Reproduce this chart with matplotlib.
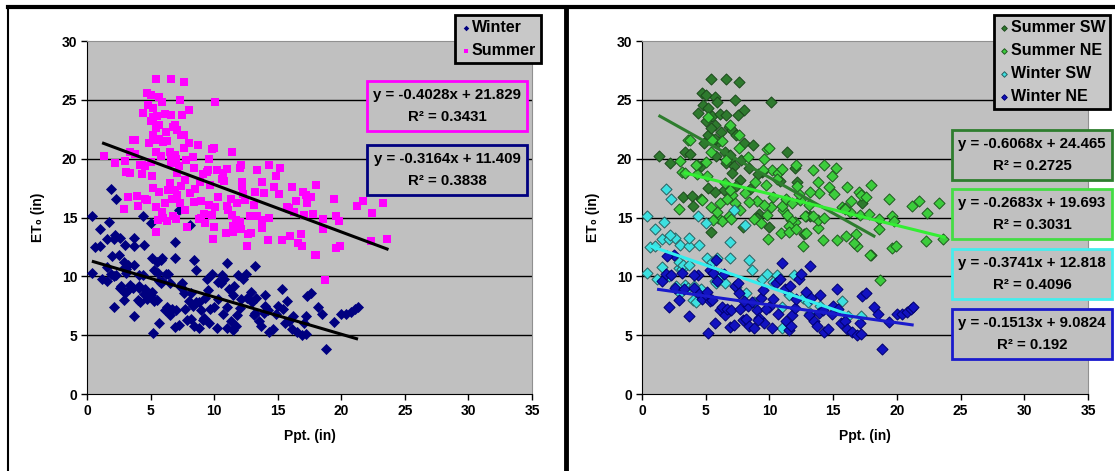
import matplotlib
matplotlib.use('Agg')
import matplotlib.pyplot as plt
from matplotlib.lines import Line2D
import numpy as np

plt.rcParams['font.family'] = ['Liberation Sans', 'DejaVu Sans']
plt.rcParams['font.weight'] = 'bold'

# points, (ppt, ET0) in inches
summer_sw = [(5.4, 26.8), (6.6, 26.8), (7.6, 26.5), (10.1, 24.8), (7.3, 25.0), (4.7, 25.6), (5.0, 25.4),
             (5.7, 25.2), (5.9, 24.8), (4.8, 24.6), (5.2, 24.3), (8.0, 24.1), (4.4, 23.9), (5.5, 23.6),
             (6.1, 23.8), (6.6, 23.7), (7.5, 23.7), (5.0, 23.2), (5.7, 22.9), (6.2, 22.3), (6.8, 22.7),
             (7.1, 22.4), (5.2, 22.0), (6.0, 21.4), (5.7, 21.7), (7.4, 22.0), (8.0, 21.3), (8.7, 21.2),
             (6.5, 20.6), (3.4, 20.6), (3.8, 20.4), (1.3, 20.2), (2.2, 19.6), (4.6, 19.4), (5.8, 20.2),
             (7.0, 20.0), (7.8, 19.9), (6.6, 19.6), (7.2, 19.4), (8.4, 19.2), (9.4, 18.9), (11.4, 20.6),
             (12.0, 19.2), (12.2, 18.0), (10.8, 18.1), (9.1, 18.7), (7.7, 18.2), (7.4, 17.7), (6.4, 17.3),
             (5.7, 17.2), (4.6, 16.6), (3.2, 16.7), (3.9, 16.8), (4.0, 16.0), (5.2, 17.5), (9.2, 15.3),
             (10.0, 14.2), (5.4, 13.8), (7.9, 14.2), (12.7, 13.6), (13.2, 15.1), (12.9, 15.1), (17.3, 16.2),
             (18.0, 11.8), (8.5, 17.4), (9.0, 15.0), (7.1, 18.8), (6.9, 20.3), (4.9, 21.3), (5.4, 22.6)]

summer_ne = [(5.2, 23.5), (3.6, 21.6), (3.8, 21.6), (5.5, 21.6), (6.3, 21.5), (6.9, 22.9), (4.3, 19.5),
             (3.1, 18.9), (3.4, 18.8), (5.4, 20.6), (5.0, 19.7), (6.6, 19.9), (7.6, 20.9), (7.6, 22.0),
             (8.3, 20.1), (9.6, 20.0), (9.8, 20.8), (10.0, 20.9), (10.2, 19.0), (10.7, 18.8), (11.0, 19.1),
             (12.1, 19.5), (13.4, 19.0), (14.3, 19.5), (15.2, 19.2), (14.9, 18.5), (13.8, 18.0), (13.9, 17.1),
             (14.7, 17.6), (15.1, 17.0), (16.1, 17.6), (17.0, 17.2), (17.2, 16.9), (18.0, 17.8), (17.6, 16.7),
             (16.4, 16.4), (15.7, 15.9), (15.9, 15.8), (16.3, 15.5), (17.1, 15.2), (17.8, 15.3), (18.6, 14.9),
             (19.6, 15.1), (19.8, 14.7), (19.4, 16.6), (21.2, 16.0), (21.7, 16.4), (23.3, 16.2), (22.4, 15.4),
             (22.3, 13.0), (23.6, 13.2), (19.6, 12.4), (19.9, 12.6), (18.6, 14.0), (17.9, 11.8), (18.7, 9.7),
             (16.9, 12.6), (16.6, 12.8), (16.8, 13.6), (16.0, 13.4), (15.3, 13.1), (14.2, 13.1), (13.8, 14.1),
             (13.8, 14.8), (12.6, 12.6), (12.9, 13.7), (12.8, 15.1), (12.0, 14.6), (11.7, 14.8), (11.5, 14.3),
             (11.1, 15.6), (10.9, 13.7), (11.5, 13.8), (11.4, 15.2), (11.0, 16.0), (11.3, 16.6), (11.8, 16.2),
             (12.4, 16.5), (13.1, 16.1), (13.2, 17.2), (12.3, 17.0), (10.3, 16.7), (10.1, 15.9), (9.8, 15.2),
             (9.6, 16.1), (9.0, 16.4), (9.3, 14.5), (8.8, 14.9), (8.4, 16.3), (7.7, 15.6), (7.3, 16.2),
             (7.1, 16.9), (6.9, 17.3), (6.5, 17.9), (6.1, 16.2), (6.0, 15.0), (6.3, 14.7), (5.9, 15.5),
             (5.6, 14.8), (6.8, 15.1), (5.4, 15.9), (4.3, 18.7), (4.2, 19.5), (3.0, 19.8), (2.9, 15.7),
             (4.7, 16.5), (5.1, 18.5), (8.1, 17.1), (8.9, 18.0), (9.7, 17.8), (9.5, 19.0), (10.6, 18.3),
             (12.1, 14.0), (12.2, 17.7), (13.4, 15.1), (14.3, 15.0), (15.9, 15.7), (9.9, 13.2), (7.0, 14.9),
             (6.7, 16.6)]

winter_sw = [(0.4, 15.1), (1.0, 14.0), (1.7, 14.6), (1.6, 13.2), (2.1, 13.2), (2.6, 13.3), (2.2, 13.5),
             (3.0, 12.7), (3.7, 12.6), (3.7, 13.3), (4.5, 12.7), (0.6, 12.5), (1.0, 12.6), (0.4, 10.3),
             (1.6, 10.8), (2.1, 10.0), (1.2, 9.8), (2.9, 10.7), (2.9, 11.2), (3.1, 10.6), (3.2, 11.0),
             (3.7, 11.0), (3.4, 9.3), (3.6, 9.0), (4.0, 8.0), (4.2, 7.8), (4.1, 9.2), (4.6, 8.9),
             (5.1, 11.6), (5.5, 11.2), (5.9, 11.6), (6.2, 10.2), (5.7, 9.6), (5.8, 9.4), (6.9, 11.6),
             (6.9, 12.9), (7.2, 15.6), (1.9, 17.4), (2.3, 16.6), (4.4, 15.1), (5.0, 14.5), (8.1, 14.4),
             (8.4, 11.4), (8.6, 10.5), (8.2, 8.6), (8.8, 7.8), (9.4, 9.8), (9.8, 10.2), (10.3, 9.5),
             (10.6, 10.1), (11.9, 10.1), (11.0, 7.4), (11.5, 8.4), (12.6, 8.2), (13.0, 7.8), (14.0, 7.5),
             (15.7, 7.9), (16.2, 6.6), (17.2, 6.6), (13.2, 6.9), (11.0, 5.6), (7.4, 9.1), (6.5, 9.4),
             (2.7, 9.2), (3.0, 8.6)]

winter_ne = [(2.1, 7.4), (1.6, 9.6), (1.9, 10.2), (2.3, 10.1), (2.6, 9.0), (2.9, 8.0), (3.3, 8.9),
             (3.1, 10.3), (3.7, 6.6), (4.1, 9.0), (4.4, 10.1), (4.5, 8.5), (4.7, 8.1), (5.0, 8.4),
             (5.3, 7.9), (5.5, 8.0), (5.3, 10.5), (5.6, 10.3), (5.8, 11.4), (5.2, 5.2), (5.7, 6.0),
             (6.1, 7.1), (6.3, 7.4), (6.5, 6.7), (6.7, 7.2), (6.9, 5.7), (7.0, 7.1), (7.3, 9.2),
             (7.6, 8.6), (7.7, 7.2), (7.9, 6.3), (8.2, 6.4), (8.4, 5.8), (8.3, 7.5), (8.6, 7.8),
             (8.8, 5.6), (9.0, 7.1), (9.2, 6.5), (9.3, 8.2), (9.5, 8.8), (9.6, 6.0), (10.0, 7.4),
             (10.2, 5.6), (10.3, 8.1), (10.7, 6.8), (11.0, 11.1), (11.2, 8.9), (11.3, 6.2), (11.5, 5.4),
             (11.7, 5.8), (11.8, 6.7), (12.0, 7.3), (12.3, 9.8), (12.5, 10.2), (12.9, 8.7), (13.1, 6.7),
             (13.2, 10.9), (13.3, 8.2), (13.5, 6.2), (13.7, 5.8), (13.9, 6.9), (14.0, 8.4), (14.2, 7.1),
             (14.3, 5.3), (14.6, 5.5), (15.0, 7.5), (15.3, 8.9), (15.4, 7.2), (15.6, 6.0), (15.9, 6.2),
             (16.1, 5.5), (16.5, 5.3), (16.9, 5.0), (17.3, 8.3), (17.6, 8.6), (17.1, 6.0), (17.2, 5.1),
             (18.2, 7.4), (18.5, 6.8), (18.8, 3.8), (19.4, 6.1), (20.0, 6.8), (20.4, 6.8), (20.8, 7.0),
             (21.1, 7.2), (21.3, 7.4), (5.9, 9.6), (6.4, 10.2), (7.5, 9.4), (8.0, 7.9), (9.7, 7.2),
             (10.5, 9.4), (12.1, 8.1), (14.9, 6.8), (2.5, 11.8), (2.0, 11.7), (5.1, 8.7), (4.1, 10.1),
             (10.8, 9.8), (11.6, 9.2), (7.2, 5.9), (9.1, 6.3)]

# trendlines as printed on the chart: slope, intercept, r2, x range
left_fits = {'Summer': (-0.4028, 21.829, 0.3431, 1.3, 23.6),
             'Winter': (-0.3164, 11.409, 0.3838, 0.5, 21.2)}
right_names = ['Summer SW', 'Summer NE', 'Winter SW', 'Winter NE']
right_fits = {'Summer SW': (-0.6068, 24.465, 0.2725, 1.4, 18.2),
              'Summer NE': (-0.2683, 19.693, 0.3031, 3.4, 23.7),
              'Winter SW': (-0.3741, 12.818, 0.4096, 0.7, 17.0),
              'Winter NE': (-0.1513, 9.0824, 0.192, 1.3, 21.2)}

x_ticks = [0, 5, 10, 15, 20, 25, 30, 35]
y_ticks = [0, 5, 10, 15, 20, 25, 30]

GRAY = '#c0c0c0'


def setup_axes(ax):
    ax.set_facecolor(GRAY)
    ax.set_xlim(0, 35)
    ax.set_ylim(0, 30)
    ax.set_xticks(x_ticks)
    ax.set_yticks(y_ticks)
    ax.tick_params(direction='out', length=4, width=1, labelsize=10, pad=3)
    for lbl in ax.get_xticklabels() + ax.get_yticklabels():
        lbl.set_fontweight('bold')
    for y in y_ticks[1:-1]:
        ax.axhline(y, color='black', lw=1, zorder=1)
    ax.spines['left'].set_color('black')
    ax.spines['bottom'].set_color('black')
    ax.spines['top'].set_color('#909090')
    ax.spines['right'].set_color('#909090')
    ax.set_xlabel('Ppt. (in)', fontsize=10, fontweight='bold', labelpad=8)
    ax.set_ylabel('ET\u2080 (in)', fontsize=10, fontweight='bold', labelpad=12)


def trend(ax, fit, color):
    m, b, r2, x0, x1 = fit
    xs = np.array([x0, x1])
    ax.plot(xs, m * xs + b, color=color, lw=2.2, zorder=4)


def eq_box(fig, fit, x, y, edge):
    m, b, r2 = fit[:3]
    txt = f'y = {m:.4f}x + {b:g}\nR\u00b2 = {r2:g}'
    fig.text(x, y, txt, ha='center', va='center', fontsize=10.8, fontweight='bold',
             linespacing=1.8,
             bbox=dict(boxstyle='square,pad=0.42', fc=GRAY, ec=edge, lw=2))


def style_legend(leg):
    fr = leg.get_frame()
    fr.set_edgecolor('black')
    fr.set_linewidth(2)
    fr.set_facecolor('#c8c8c8')
    fr.set_alpha(1)


fig = plt.figure(figsize=(11.15, 4.71), dpi=100)
fig.patch.set_facecolor('white')

# ---- left panel ----
ax1 = fig.add_axes([87 / 1115, 77 / 471, 445 / 1115, 353 / 471])
setup_axes(ax1)
winter = winter_sw + winter_ne
summer = summer_sw + summer_ne
wx, wy = zip(*winter)
sx, sy = zip(*summer)
ax1.scatter(wx, wy, marker='D', s=32, color='#000080', lw=0, zorder=3, label='Winter')
ax1.scatter(sx, sy, marker='s', s=36, color='#ff00ff', lw=0, zorder=3, label='Summer')
trend(ax1, left_fits['Summer'], 'black')
trend(ax1, left_fits['Winter'], 'black')
leg1 = ax1.legend(loc='upper right', bbox_to_anchor=(541 / 1115, 1 - 15 / 471),
                  bbox_transform=fig.transFigure, frameon=True, fancybox=False,
                  prop={'weight': 'bold', 'size': 11.5}, markerscale=0.5, handletextpad=0.05,
                  handlelength=0.7, borderpad=0.3, labelspacing=0.5, borderaxespad=0)
style_legend(leg1)
eq_box(fig, left_fits['Summer'], 447 / 1115, 1 - 106 / 471, '#ff00ff')
eq_box(fig, left_fits['Winter'], 447 / 1115, 1 - 170 / 471, '#000080')

# ---- right panel ----
ax2 = fig.add_axes([642 / 1115, 77 / 471, 446 / 1115, 353 / 471])
setup_axes(ax2)
face = {'Summer SW': '#2e7a2e', 'Summer NE': '#3ccc3c', 'Winter SW': '#3ce0e0', 'Winter NE': '#1212c0'}
edge = {'Summer SW': '#1c4a1c', 'Summer NE': '#1e5a1e', 'Winter SW': '#2a6060', 'Winter NE': '#000070'}
line_c = {'Summer SW': '#2e7d2e', 'Summer NE': '#33ee33', 'Winter SW': '#33eeee', 'Winter NE': '#1a1acc'}
series = {'Summer SW': summer_sw, 'Summer NE': summer_ne, 'Winter SW': winter_sw, 'Winter NE': winter_ne}
for name in right_names:
    px, py = zip(*series[name])
    ax2.scatter(px, py, marker='D', s=32, color=face[name], edgecolors=edge[name], lw=0.7,
                zorder=3, label=name)
for name in right_names:
    trend(ax2, right_fits[name], line_c[name])
leg2 = ax2.legend(loc='upper right', bbox_to_anchor=(1110 / 1115, 1 - 15 / 471),
                  bbox_transform=fig.transFigure, frameon=True, fancybox=False,
                  prop={'weight': 'bold', 'size': 11.5}, markerscale=0.5, handletextpad=0.05,
                  handlelength=0.7, borderpad=0.3, labelspacing=0.5, borderaxespad=0)
style_legend(leg2)
box_y = [155, 214, 274, 334]
box_edge = ['#2e7d2e', '#44dd44', '#44eeee', '#1a1acc']
for name, yy, ec in zip(right_names, box_y, box_edge):
    eq_box(fig, right_fits[name], 1032 / 1115, 1 - yy / 471, ec)

# page borders
fig.add_artist(Line2D([8 / 1115, 1], [1 - 7 / 471, 1 - 7 / 471], color='black', lw=3,
                      transform=fig.transFigure))
fig.add_artist(Line2D([566 / 1115, 566 / 1115], [0, 1 - 7 / 471], color='black', lw=3.5,
                      transform=fig.transFigure))
fig.add_artist(Line2D([8 / 1115, 8 / 1115], [0, 1 - 7 / 471], color='black', lw=1.5,
                      transform=fig.transFigure))

fig.savefig('out.png', dpi=100)
